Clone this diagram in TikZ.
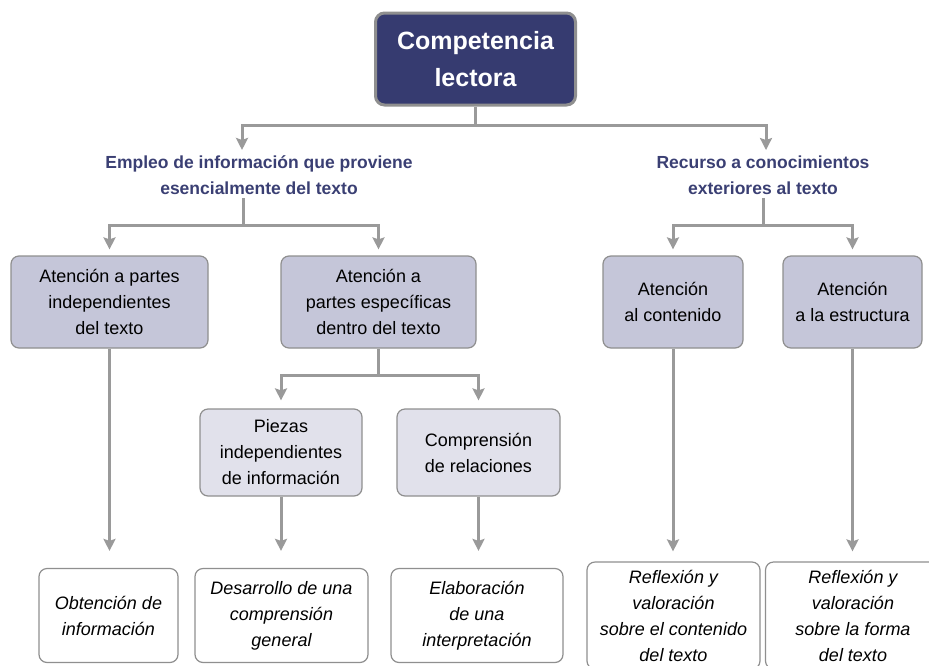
\documentclass[tikz,border=0pt]{standalone}
\usepackage{fontspec}
\setmainfont{Liberation Sans}
\usetikzlibrary{arrows.meta, positioning, calc}

\definecolor{navy}{HTML}{363B70}
\definecolor{headblue}{HTML}{3A3F73}
\definecolor{lilac}{HTML}{C5C6D9}
\definecolor{palelilac}{HTML}{E1E1EB}
\definecolor{linegray}{HTML}{9A9A9A}
\definecolor{edgegray}{HTML}{8F8F8F}

\begin{document}
\begin{tikzpicture}[
  x=1pt, y=-1pt,
  title/.style = {draw=edgegray, line width=3pt, fill=navy, rounded corners=9pt, text=white,
    font=\fontsize{25}{37}\selectfont\bfseries, align=center, minimum width=200pt, minimum height=92pt},
  heading/.style = {text=headblue, font=\fontsize{17.5}{26}\selectfont\bfseries, align=center},
  block/.style = {draw=edgegray, line width=1.2pt, fill=lilac, rounded corners=8pt,
    font=\fontsize{18}{26}\selectfont, align=center, minimum height=92pt},
  subblock/.style = {block, fill=palelilac, minimum height=87pt},
  result/.style = {block, fill=white, font=\fontsize{18}{26}\selectfont\itshape, minimum height=94pt},
  line/.style = {linegray, line width=3pt},
  arrow/.style = {line, shorten >=6pt, -{Stealth[length=12pt, width=12pt, inset=2pt]}}
]
  \useasboundingbox (0,0) rectangle (929,665);
  \clip (0,0) rectangle (929,665);

  % Root
  \node[title] (lectora) at (475.5,59) {Competencia\\lectora};

  % Two main groups
  \node[heading] (empleo) at (259,175) {Empleo de información que proviene\\esencialmente del texto};
  \node[heading] (recurso) at (763,175) {Recurso a conocimientos\\exteriores al texto};

  % Second level
  \node[block, minimum width=197pt] (aparts) at (109.5,302) {Atención a partes\\independientes\\del texto};
  \node[block, minimum width=195pt] (aespec) at (378.5,302) {Atención a\\partes específicas\\dentro del texto};
  \node[block, minimum width=140pt] (acont) at (673,302) {Atención\\al contenido};
  \node[block, minimum width=139pt] (aestr) at (852.5,302) {Atención\\a la estructura};

  % Third level
  \node[subblock, minimum width=162pt] (piezas) at (281,452.5) {Piezas\\independientes\\de información};
  \node[subblock, minimum width=163pt] (comp) at (478.5,452.5) {Comprensión\\de relaciones};

  % Results
  \node[result, minimum width=139pt] (obten) at (108.5,615.5) {Obtención de\\información};
  \node[result, minimum width=173pt] (desarr) at (281.5,615.5) {Desarrollo de una\\comprensión\\general};
  \node[result, minimum width=172pt] (elabor) at (477,615.5) {Elaboración\\de una\\interpretación};
  \node[result, minimum width=173pt, minimum height=107pt] (reflc) at (673.5,615.5) {Reflexión y\\valoración\\sobre el contenido\\del texto};
  \node[result, minimum width=175pt, minimum height=107pt] (reflf) at (853,615.5) {Reflexión y\\valoración\\sobre la forma\\del texto};

  % Branches
  \coordinate (j1) at (475.5,125);
  \coordinate (j2) at (243,225);
  \coordinate (j3) at (763,225);
  \coordinate (j4) at (378.5,375);

  \draw[line] (lectora.south) -- (j1);
  \draw[arrow, shorten >=2pt] (j1) -| ([xshift=-17pt]empleo.north);
  \draw[arrow, shorten >=2pt] (j1) -| ([xshift=3pt]recurso.north);

  \draw[line] (j2 |- empleo.south) -- (j2);
  \draw[arrow] (j2) -| (aparts.north);
  \draw[arrow] (j2) -| (aespec.north);

  \draw[line] (recurso.south) -- (j3);
  \draw[arrow] (j3) -| (acont.north);
  \draw[arrow] (j3) -| (aestr.north);

  \draw[line] (aespec.south) -- (j4);
  \draw[arrow, shorten >=8pt] (j4) -| (piezas.north);
  \draw[arrow, shorten >=8pt] (j4) -| (comp.north);

  % Long arrows to results
  \draw[arrow, shorten >=17pt] (aparts.south) -- (aparts.south |- obten.north);
  \draw[arrow, shorten >=17pt] (piezas.south) -- (piezas.south |- desarr.north);
  \draw[arrow, shorten >=17pt] (comp.south) -- (comp.south |- elabor.north);
  \draw[arrow, shorten >=10pt] (acont.south) -- (acont.south |- reflc.north);
  \draw[arrow, shorten >=10pt] (aestr.south) -- (aestr.south |- reflf.north);

\end{tikzpicture}
\end{document}
